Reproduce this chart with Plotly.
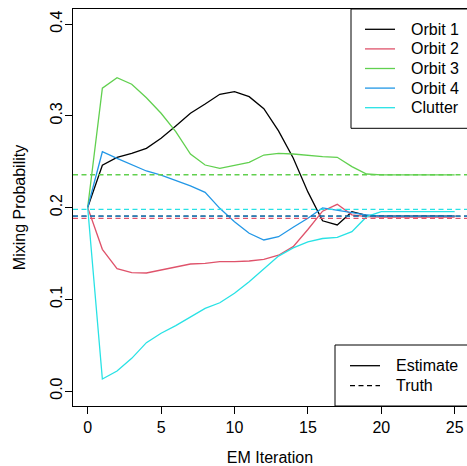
import plotly.graph_objects as go

# ---------------- data ----------------
iterations = list(range(0, 26))
series_names = ["Orbit 1", "Orbit 2", "Orbit 3", "Orbit 4", "Clutter"]
series_colors = ["#000000", "#DF536B", "#61D04F", "#2297E6", "#28E2E5"]

orbit1 = [0.200, 0.246, 0.2547, 0.259, 0.2645, 0.2754, 0.2888, 0.3027, 0.3128, 0.3234,
          0.3262, 0.3208, 0.3077, 0.2835, 0.254, 0.217, 0.1855, 0.181, 0.1954, 0.1915,
          0.1907, 0.1907, 0.1907, 0.1907, 0.1907, 0.1907]
orbit2 = [0.200, 0.1544, 0.1333, 0.129, 0.1286, 0.1319, 0.1355, 0.1384, 0.1392, 0.1409,
          0.1409, 0.1417, 0.1435, 0.148, 0.1573, 0.176, 0.196, 0.2035, 0.192, 0.190,
          0.1895, 0.1895, 0.1895, 0.1895, 0.1895, 0.1895]
orbit3 = [0.200, 0.330, 0.3415, 0.3343, 0.3197, 0.3027, 0.2826, 0.2583, 0.2463, 0.2427,
          0.246, 0.2492, 0.2572, 0.259, 0.2583, 0.2565, 0.2554, 0.2547, 0.2445, 0.2365,
          0.2355, 0.2355, 0.2355, 0.2355, 0.2355, 0.2355]
orbit4 = [0.200, 0.2608, 0.2536, 0.2463, 0.2398, 0.2354, 0.2295, 0.2236, 0.2165, 0.1991,
          0.1845, 0.1719, 0.1646, 0.1682, 0.1784, 0.1882, 0.1995, 0.1965, 0.1943, 0.1918,
          0.1907, 0.1907, 0.1907, 0.1907, 0.1907, 0.1907]
clutter = [0.200, 0.0131, 0.0218, 0.0356, 0.0527, 0.0629, 0.0712, 0.081, 0.0901, 0.0962,
           0.1065, 0.1191, 0.1326, 0.147, 0.156, 0.1625, 0.1662, 0.1675, 0.1736, 0.190,
           0.1954, 0.1954, 0.1954, 0.1954, 0.1954, 0.1954]
truth = [0.1905, 0.1882, 0.2357, 0.1907, 0.198]

x_ticks = [0, 5, 10, 15, 20, 25]
y_ticks = [0.0, 0.1, 0.2, 0.3, 0.4]
y_ticktext = ["0.0", "0.1", "0.2", "0.3", "0.4"]
linetype_names = ["Estimate", "Truth"]

# ---------------- layout constants ----------------
W, H = 467, 466
ML, MR, MT, MB = 73, 0, 9, 60
PW = W - ML - MR
PH = H - MT - MB
FONT = "Liberation Sans, Arial, Helvetica, sans-serif"
FS = 16
DASH = "5px,3.5px"
LW = 1.3


def dx(px):
    return (px - ML) / PW


def dy(py):
    return (H - MB - py) / PH


fig = go.Figure()
all_series = [orbit1, orbit2, orbit3, orbit4, clutter]
for name, vals, col in zip(series_names, all_series, series_colors):
    fig.add_trace(go.Scatter(x=iterations, y=vals, mode="lines", name=name,
                             line=dict(color=col, width=LW), showlegend=False,
                             hoverinfo="skip"))

shapes = []
for val, col in zip(truth, series_colors):
    shapes.append(dict(type="line", xref="x domain", yref="y", x0=0, x1=1, y0=val, y1=val,
                       line=dict(color=col, width=LW, dash=DASH), layer="above"))

annotations = []
# legend 1 (series)
shapes.append(dict(type="rect", xref="x domain", yref="y domain",
                   x0=dx(351), x1=1.05, y0=dy(128.3), y1=1.0,
                   line=dict(color="black", width=1), fillcolor="white", layer="above"))
row_y = [29.3, 48.9, 68.5, 88.1, 107.7]
for name, col, ry in zip(series_names, series_colors, row_y):
    shapes.append(dict(type="line", xref="x domain", yref="y domain",
                       x0=dx(365), x1=dx(395), y0=dy(ry), y1=dy(ry),
                       line=dict(color=col, width=LW), layer="above"))
    annotations.append(dict(xref="x domain", yref="y domain", x=dx(409), y=dy(ry),
                            text=name, showarrow=False, xanchor="left", yanchor="middle",
                            font=dict(family=FONT, size=FS, color="black")))

# legend 2 (line types)
shapes.append(dict(type="rect", xref="x domain", yref="y domain",
                   x0=dx(335), x1=1.05, y0=0.0, y1=dy(345),
                   line=dict(color="black", width=1), fillcolor="white", layer="above"))
lt_y = [365.7, 385.7]
lt_dash = ["solid", DASH]
for name, ry, ds in zip(linetype_names, lt_y, lt_dash):
    shapes.append(dict(type="line", xref="x domain", yref="y domain",
                       x0=dx(350), x1=dx(380), y0=dy(ry), y1=dy(ry),
                       line=dict(color="black", width=LW, dash=ds), layer="above"))
    annotations.append(dict(xref="x domain", yref="y domain", x=dx(394), y=dy(ry),
                            text=name, showarrow=False, xanchor="left", yanchor="middle",
                            font=dict(family=FONT, size=FS, color="black")))

fig.update_layout(
    width=W, height=H,
    margin=dict(l=ML, r=MR, t=MT, b=MB, pad=0),
    paper_bgcolor="white", plot_bgcolor="white",
    font=dict(family=FONT, size=FS, color="black"),
    shapes=shapes, annotations=annotations,
    showlegend=False,
)
fig.update_xaxes(
    range=[-1, -1 + PW / 14.68], tickvals=x_ticks, ticks="outside", ticklen=7,
    tickcolor="black", tickwidth=1, showline=True, linecolor="black", linewidth=1,
    mirror=True, showgrid=False, zeroline=False,
    tickfont=dict(family=FONT, size=FS, color="black"),
    title=dict(text="EM Iteration", font=dict(family=FONT, size=FS, color="black"), standoff=17),
)
y0 = -(H - MB - 391) / 917.5
fig.update_yaxes(
    range=[y0, y0 + PH / 917.5], tickvals=y_ticks, ticktext=y_ticktext, tickangle=-90,
    ticks="outside", ticklen=7, tickcolor="black", tickwidth=1,
    showline=True, linecolor="black", linewidth=1, mirror=True,
    showgrid=False, zeroline=False, ticklabelstandoff=-3,
    tickfont=dict(family=FONT, size=FS, color="black"),
    title=dict(text="Mixing Probability", font=dict(family=FONT, size=FS, color="black"), standoff=17),
)

fig.write_html("out.html")
